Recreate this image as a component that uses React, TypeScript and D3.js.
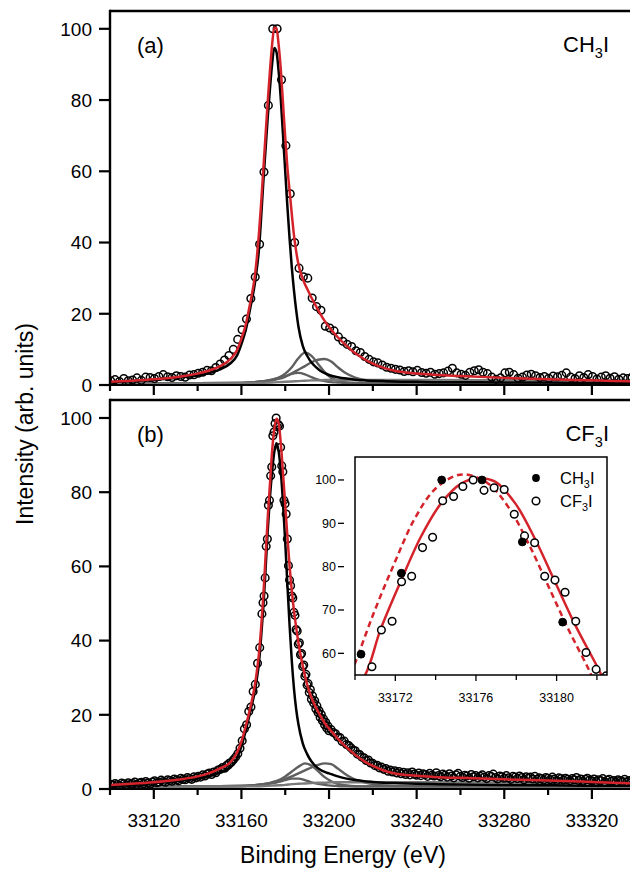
import React from "react";
import * as d3 from "d3";

// ---------------- data ----------------
// energy grid (eV) on which the fitted curves were read
const fitEnergy = [33100, 33110, 33120, 33130, 33140, 33145, 33150, 33155, 33158, 33160, 33162, 33164,
  33166, 33167, 33168, 33169, 33170, 33171, 33172, 33173, 33174, 33175, 33176, 33177, 33178, 33179, 33180,
  33181, 33182, 33183, 33184, 33185, 33186, 33188, 33190, 33192, 33194, 33196, 33198, 33200,
  33204, 33208, 33212, 33216, 33220, 33225, 33230, 33240, 33250, 33260, 33280, 33300, 33320, 33340];

// (a) CH3I: total fit (red) and main peak (black)
const totalFitCH3I = [0.9, 1.2, 1.6, 2.2, 3.2, 4.0, 5.2, 7.3, 9.8, 13.0, 17.0, 23.0,
  30.0, 35.5, 42.5, 51, 60.5, 70, 79.5, 88, 95.5, 100.3, 100.2, 95.5, 88.5, 79, 69.5,
  61, 54.5, 48, 42, 37.5, 34, 29.8, 27, 24.5, 22.2, 20, 18, 16.3,
  13.4, 11, 8.9, 7.3, 6.0, 4.8, 4.0, 3.2, 2.8, 2.5, 2.0, 1.6, 1.3, 1.0];
const mainPeakCH3I = [0.8, 1.1, 1.4, 2.0, 2.7, 3.3, 4.3, 6.1, 8.3, 11.5, 15.5, 21.5,
  28, 32.5, 38, 47, 57, 66, 75, 83, 90, 94.6, 93.5, 88, 80, 70, 60,
  50, 41, 33, 26.5, 21, 16.5, 11, 8.2, 6.3, 5.0, 4.0, 3.3, 2.8,
  2.2, 1.8, 1.5, 1.3, 1.2, 1.1, 1.0, 0.9, 0.8, 0.8, 0.7, 0.7, 0.6, 0.6];

// (b) CF3I: total fit (red) and main peak (black)
const totalFitCF3I = [1.1, 1.4, 1.8, 2.4, 3.4, 4.2, 5.5, 7.2, 9.8, 12.8, 17.0, 21.8,
  27.5, 31.5, 36.5, 43.5, 52, 62.5, 73, 82, 91, 97, 99.8, 98.6, 93, 85, 76.5,
  68, 60, 53.5, 48, 43.5, 39.5, 33.2, 28.2, 24.6, 22, 19.8, 17.8, 16.3,
  13.6, 11.2, 9.2, 7.5, 6.2, 5.0, 4.2, 3.6, 3.2, 3.0, 2.6, 2.3, 1.9, 1.5];
const mainPeakCF3I = [0.9, 1.2, 1.6, 2.1, 2.9, 3.5, 4.4, 5.8, 8.3, 11.5, 15.8, 20.8,
  26, 29.5, 34, 41, 49, 59, 69.5, 78.5, 85.5, 90.8, 93.2, 91, 85.5, 77, 66.5,
  55, 44, 34.5, 27, 21.5, 17.5, 12.3, 9.4, 7.4, 6.1, 5.2, 4.6, 4.2,
  3.4, 2.8, 2.4, 2.1, 1.9, 1.7, 1.6, 1.4, 1.3, 1.2, 1.1, 1.0, 0.9, 0.9];

// gray satellite components
const compEnergy = [33100, 33140, 33160, 33166, 33170, 33174, 33177, 33180, 33183, 33186, 33189, 33192, 33195,
  33198, 33201, 33204, 33207, 33210, 33214, 33218, 33224, 33232, 33250, 33300, 33340];
const satACH3I = [0.5, 0.5, 0.6, 0.8, 1.0, 1.5, 2.1, 3.2, 5.0, 7.5, 9.1, 8.2, 5.9,
  3.6, 2.0, 1.2, 0.8, 0.6, 0.5, 0.5, 0.5, 0.5, 0.5, 0.5, 0.5];
const satBCH3I = [0.5, 0.5, 0.6, 0.8, 1.1, 1.5, 2.0, 2.5, 3.3, 4.3, 5.3, 6.4, 7.1,
  7.3, 6.6, 5.0, 3.6, 2.6, 1.7, 1.2, 0.8, 0.6, 0.5, 0.5, 0.5];
const satCCH3I = [0.5, 0.5, 0.6, 0.8, 1.0, 1.3, 1.7, 2.3, 3.1, 3.4, 3.0, 2.2, 1.5,
  1.1, 0.8, 0.7, 0.6, 0.6, 0.5, 0.5, 0.5, 0.5, 0.5, 0.5, 0.5];
const stepCH3I = [0.4, 0.4, 0.5, 0.5, 0.6, 0.7, 0.8, 0.9, 1.0, 1.1, 1.2, 1.3, 1.3,
  1.4, 1.4, 1.4, 1.4, 1.4, 1.4, 1.4, 1.4, 1.4, 1.4, 1.3, 1.3];
const satACF3I = [0.7, 0.7, 0.8, 1.0, 1.3, 1.8, 2.4, 3.4, 4.7, 6.0, 6.9, 6.3, 4.8,
  3.2, 2.1, 1.4, 1.0, 0.8, 0.7, 0.7, 0.7, 0.7, 0.7, 0.7, 0.7];
const satBCF3I = [0.7, 0.7, 0.8, 1.0, 1.3, 1.7, 2.1, 2.7, 3.4, 4.2, 5.0, 5.8, 6.5,
  6.9, 6.7, 5.5, 4.2, 3.1, 2.1, 1.5, 1.0, 0.8, 0.7, 0.7, 0.7];
const satCCF3I = [0.7, 0.7, 0.8, 1.0, 1.2, 1.5, 1.9, 2.4, 2.8, 2.8, 2.4, 1.8, 1.4,
  1.1, 0.9, 0.8, 0.7, 0.7, 0.7, 0.7, 0.7, 0.7, 0.7, 0.7, 0.7];
const stepCF3I = [0.6, 0.6, 0.7, 0.7, 0.8, 0.9, 1.0, 1.1, 1.3, 1.4, 1.5, 1.6, 1.7,
  1.7, 1.8, 1.8, 1.8, 1.8, 1.8, 1.8, 1.8, 1.8, 1.8, 1.7, 1.6];

// measured CH3I points: 2 eV spacing starting at 33100.3 eV
const ch3iStart = 33100.3;
const ch3iStep = 2;
const ch3iPoints = [1.2, 1.5, 1.0, 1.8, 1.2, 1.4, 2.0, 1.3, 2.2, 2.1,
  1.8, 2.4, 2.9, 2.3, 2.1, 2.6, 2.4, 2.2, 2.8, 2.9,
  3.3, 3.6, 4.1, 4.0, 4.9, 5.9, 7.0, 8.3, 10.0, 12.8,
  15.5, 18.5, 24.3, 30.3, 39.5, 59.8, 78.5, 100, 100, 85.7,
  67.2, 53.7, 40.0, 32.8, 30.4, 30.0, 24.4, 22.0, 21.0, 16.5,
  16.0, 15.2, 13.5, 12.3, 11.4, 10.8, 9.6, 9.1, 8.0, 7.2,
  6.5, 6.2, 5.6, 5.0, 4.7, 4.4, 4.2, 3.8, 4.0, 3.7,
  4.1, 3.5, 3.3, 3.6, 3.0, 3.2, 3.4, 3.9, 4.7, 3.4,
  3.0, 2.7, 3.6, 4.0, 4.3, 3.6, 3.2, 2.2, 1.6, 2.0,
  3.4, 3.6, 2.9, 1.9, 2.2, 2.8, 3.0, 2.6, 2.1, 2.4,
  1.9, 2.5, 2.3, 2.7, 3.4, 2.2, 1.8, 2.6, 2.1, 2.9,
  2.4, 1.7, 2.2, 2.6, 1.9, 2.3, 1.6, 2.0, 1.8, 2.2];

// measured CF3I points, low-energy side: 1 eV spacing from 33100.35 eV
const cf3iLowStart = 33100.35;
const cf3iLow = [1.3, 1.0, 1.5, 1.2, 0.9, 1.6, 1.4, 1.1, 1.7, 1.3,
  1.5, 1.9, 1.2, 1.6, 1.8, 1.4, 2.0, 1.6, 1.3, 1.9,
  2.2, 1.7, 1.9, 2.4, 2.0, 1.8, 2.5, 2.3, 2.1, 2.7,
  2.4, 2.2, 2.9, 2.6, 2.5, 3.1, 2.8, 2.6, 3.3, 3.0,
  3.4, 3.2, 3.8, 3.5, 4.0, 4.3, 3.9, 4.6, 4.4, 5.1,
  5.3, 5.8, 5.6, 6.4, 6.9, 7.2, 7.9, 8.6, 9.5, 11.0,
  13.0, 16.2, 17.3, 20.9, 22.1, 26.3, 28.2, 33.9, 38.1, 47.2];
// CF3I peak region (0.5 eV spacing), energies and intensities
const cf3iPeakEnergy = [33169.85, 33170.34, 33170.84, 33171.31, 33171.84, 33172.31, 33172.81, 33173.35,
  33173.85, 33174.35, 33174.89, 33175.35, 33175.86, 33176.40, 33176.90, 33177.40, 33177.90, 33178.41,
  33178.91, 33179.41, 33179.92, 33180.42, 33180.95, 33181.46, 33181.96];
const cf3iPeak = [50.2, 52.0, 56.9, 65.4, 67.4, 76.5, 77.8, 84.4,
  86.8, 95.2, 96.2, 98.5, 100, 97.6, 98.2, 97.8, 92.1, 87.1,
  85.5, 77.8, 76.9, 74.1, 67.4, 60.2, 56.3];
// CF3I high-energy flank: 0.5 eV spacing from 33182.46 eV
const cf3iFlankStart = 33182.46;
const cf3iFlank = [54.8, 52.0, 51.5, 47.6, 46.8, 43.0, 42.6, 39.0, 39.4, 36.2,
  36.5, 33.0, 33.4, 30.4, 30.9, 28.0, 28.4, 26.0, 26.8, 24.2,
  25.1, 23.2, 23.8, 21.6, 22.4, 20.6, 21.1, 19.3, 20.1, 18.4,
  18.9, 17.3, 18.0, 16.4, 17.0, 15.7];
// CF3I tail: 1 eV spacing from 33200.96 eV
const cf3iTailStart = 33200.96;
const cf3iTail = [16.0, 15.2, 14.9, 14.0, 13.9, 12.8, 12.9, 12.0, 11.7, 11.1,
  10.5, 10.3, 9.4, 9.3, 8.6, 8.4, 7.7, 7.8, 7.0, 6.9,
  6.3, 6.4, 5.7, 5.9, 5.3, 5.5, 4.8, 5.1, 4.6, 4.9,
  4.3, 4.7, 4.1, 4.5, 3.9, 4.4, 3.8, 4.6, 4.0, 3.7,
  4.3, 3.6, 4.1, 3.9, 3.4, 4.2, 3.7, 3.5, 4.4, 3.6,
  3.3, 4.0, 3.7, 3.2, 4.1, 3.5, 3.0, 3.8, 4.2, 3.4,
  3.1, 3.7, 3.5, 2.9, 3.9, 3.3, 3.6, 3.0, 3.4, 3.8,
  3.2, 2.8, 3.6, 3.4, 4.0, 3.1, 2.7, 3.5, 3.3, 2.9,
  3.6, 3.0, 2.6, 3.4, 3.2, 2.8, 3.5, 3.1, 2.5, 3.3,
  2.9, 3.2, 2.7, 3.4, 2.6, 3.0, 2.8, 2.4, 3.1, 2.9,
  2.5, 3.2, 2.7, 2.3, 3.0, 2.8, 2.4, 2.9, 2.6, 2.2,
  2.8, 2.5, 3.1, 2.3, 2.7, 2.1, 2.6, 2.9, 2.4, 2.2,
  2.7, 2.0, 2.5, 2.3, 2.8, 1.9, 2.4, 2.6, 2.1, 2.3,
  1.8, 2.5, 2.2, 2.0, 2.6, 1.9, 2.3, 2.1, 1.7, 2.4];

// inset peak-top fits
const insetFitCF3IEnergy = [33169.6, 33170.5, 33171.26, 33172.26, 33173.27, 33174.27, 33175.28, 33176.1,
  33176.95, 33177.95, 33178.96, 33179.96, 33180.97, 33182.15, 33182.8];
const insetFitCF3I = [50, 55, 65.4, 76.5, 86.9, 94.6, 99.2, 100.4, 99.6, 94.6, 86.1, 76.1, 66.1, 55.7, 49];
const insetFitCH3IEnergy = [33169.4, 33170.0, 33170.92, 33171.92, 33172.93, 33173.93, 33174.94, 33175.6,
  33176.6, 33177.6, 33178.6, 33179.6, 33180.6, 33181.65, 33182.3];
const insetFitCH3I = [51, 57.7, 69.2, 80.4, 90.8, 97.7, 100.9, 101.2, 99.2, 93.8, 85.4, 75.4, 65.4, 55.7, 48.5];

// ticks
const xMajorTicks = [33120, 33160, 33200, 33240, 33280, 33320];
const xMinorTicks = [33100, 33140, 33180, 33220, 33260, 33300];
const yTicks = [0, 20, 40, 60, 80, 100];
const insetXMajor = [33172, 33176, 33180];
const insetXMinor = [33170, 33174, 33178, 33182];
const insetYTicks = [60, 70, 80, 90, 100];

// ---------------- styling / layout ----------------
const FONT = "'Liberation Sans', Arial, Helvetica, sans-serif";
const RED = "#d4232b";
const GRAY = "#5f5f5f";
const GRAY2 = "#7a7a7a";
const PLOT_L = 110;
const PLOT_R = 630;

type Pt = [number, number];
const zip = (xs: number[], ys: number[]): Pt[] => xs.map((x, i) => [x, ys[i]] as Pt);
const seq = (start: number, step: number, ys: number[]): Pt[] => ys.map((y, i) => [start + i * step, y] as Pt);

const ch3iData: Pt[] = seq(ch3iStart, ch3iStep, ch3iPoints);
const cf3iData: Pt[] = [
  ...seq(cf3iLowStart, 1, cf3iLow),
  ...zip(cf3iPeakEnergy, cf3iPeak),
  ...seq(cf3iFlankStart, 0.5, cf3iFlank),
  ...seq(cf3iTailStart, 1, cf3iTail),
];

const xMain = d3.scaleLinear().domain([33100, 33337.4]).range([PLOT_L, PLOT_R]);

function Formula({ x, y, base, sub, end, size, anchor }: { x: number; y: number; base: string; sub: string; end: string; size: number; anchor?: string }) {
  const d = size * 0.26;
  return (
    <text x={x} y={y} fontSize={size} fontFamily={FONT} textAnchor={anchor || "start"} fill="#000">
      {base}
      <tspan dy={d} fontSize={size * 0.66}>{sub}</tspan>
      <tspan dy={-d}>{end}</tspan>
    </text>
  );
}

function Panel({ id, top, bottom, yMax, total, main, sats, data, label, species, showXLabels }: any) {
  const y = d3.scaleLinear().domain([0, yMax]).range([bottom, top]);
  const line = d3.line<Pt>().x((d) => xMain(d[0])).y((d) => y(d[1])).curve(d3.curveMonotoneX);
  return (
    <g>
      <defs>
        <clipPath id={id}>
          <rect x={PLOT_L} y={top} width={PLOT_R - PLOT_L} height={bottom - top} />
        </clipPath>
      </defs>
      <g clipPath={`url(#${id})`}>
        {sats.map((s: number[], i: number) => (
          <path key={i} d={line(zip(compEnergy, s)) || ""} fill="none" stroke={i === 3 ? GRAY2 : GRAY} strokeWidth={2.4} />
        ))}
        <path d={line(zip(fitEnergy, main)) || ""} fill="none" stroke="#000" strokeWidth={2.5} />
        {data.map((d: Pt, i: number) => (
          <circle key={i} cx={xMain(d[0])} cy={y(d[1])} r={3.8} fill="none" stroke="#000" strokeWidth={1.5} />
        ))}
        <path d={line(zip(fitEnergy, total)) || ""} fill="none" stroke={RED} strokeWidth={2.5} />
      </g>
      {/* frame */}
      <line x1={PLOT_L} x2={PLOT_R} y1={top} y2={top} stroke="#000" strokeWidth={2.4} />
      <line x1={PLOT_L} x2={PLOT_L} y1={top - 1.2} y2={bottom + 1} stroke="#000" strokeWidth={2.4} />
      <line x1={PLOT_L} x2={PLOT_R} y1={bottom} y2={bottom} stroke="#000" strokeWidth={2.2} />
      {yTicks.map((t) => (
        <g key={t}>
          <line x1={PLOT_L - 11} x2={PLOT_L} y1={y(t)} y2={y(t)} stroke="#000" strokeWidth={2.2} />
          <text x={PLOT_L - 18} y={y(t)} dy="0.36em" textAnchor="end" fontSize={19} fontFamily={FONT}>{t}</text>
        </g>
      ))}
      {xMajorTicks.map((t) => (
        <g key={t}>
          <line x1={xMain(t)} x2={xMain(t)} y1={bottom} y2={bottom + 10} stroke="#000" strokeWidth={2.2} />
          {showXLabels && (
            <text x={xMain(t)} y={bottom + 38} textAnchor="middle" fontSize={19} fontFamily={FONT}>{t}</text>
          )}
        </g>
      ))}
      {xMinorTicks.map((t) => (
        <line key={t} x1={xMain(t)} x2={xMain(t)} y1={bottom} y2={bottom + 6} stroke="#000" strokeWidth={2.2} />
      ))}
      <text x={137} y={top + 42} fontSize={22} fontFamily={FONT}>{label}</text>
      <Formula x={609} y={top + 41} base={species[0]} sub="3" end="I" size={22} anchor="end" />
    </g>
  );
}

function Inset() {
  const L = 355, R = 607, T = 457, B = 675;
  const x = d3.scaleLinear().domain([33170, 33182.5]).range([L, R]);
  const y = d3.scaleLinear().domain([55, 105.3]).range([B, T]);
  const line = d3.line<Pt>().x((d) => x(d[0])).y((d) => y(d[1])).curve(d3.curveCatmullRom);
  const inRange = (d: Pt) => d[0] >= 33169.5 && d[0] <= 33183;
  return (
    <g>
      <defs>
        <clipPath id="insetClip">
          <rect x={L} y={T} width={R - L} height={B - T} />
        </clipPath>
      </defs>
      <rect x={L} y={T} width={R - L} height={B - T} fill="#fff" stroke="none" />
      <g clipPath="url(#insetClip)">
        <path d={line(zip(insetFitCH3IEnergy, insetFitCH3I)) || ""} fill="none" stroke={RED} strokeWidth={2.5} strokeDasharray="6,4" />
        <path d={line(zip(insetFitCF3IEnergy, insetFitCF3I)) || ""} fill="none" stroke={RED} strokeWidth={2.5} />
        {cf3iData.filter(inRange).map((d, i) => (
          <circle key={"o" + i} cx={x(d[0])} cy={y(d[1])} r={3.8} fill="#fff" stroke="#000" strokeWidth={1.5} />
        ))}
        {ch3iData.filter(inRange).map((d, i) => (
          <circle key={"f" + i} cx={x(d[0])} cy={y(d[1])} r={3.9} fill="#000" stroke="#000" strokeWidth={1} />
        ))}
      </g>
      <rect x={L} y={T} width={R - L} height={B - T} fill="none" stroke="#000" strokeWidth={1.5} />
      {insetYTicks.map((t) => (
        <g key={t}>
          <line x1={338} x2={344} y1={y(t)} y2={y(t)} stroke="#000" strokeWidth={1.3} />
          <text x={336} y={y(t)} dy="0.36em" textAnchor="end" fontSize={12.5} fontFamily={FONT}>{t}</text>
        </g>
      ))}
      {insetXMajor.map((t) => (
        <g key={t}>
          <line x1={x(t)} x2={x(t)} y1={B} y2={B + 6} stroke="#000" strokeWidth={1.3} />
          <text x={x(t)} y={B + 27} textAnchor="middle" fontSize={12.5} fontFamily={FONT}>{t}</text>
        </g>
      ))}
      {insetXMinor.map((t) => (
        <line key={t} x1={x(t)} x2={x(t)} y1={B} y2={B + 5} stroke="#000" strokeWidth={1.3} />
      ))}
      <circle cx={536} cy={478} r={3.9} fill="#000" />
      <Formula x={560} y={484} base="CH" sub="3" end="I" size={16.5} />
      <circle cx={536} cy={501} r={3.8} fill="#fff" stroke="#000" strokeWidth={1.5} />
      <Formula x={560} y={507} base="CF" sub="3" end="I" size={16.5} />
    </g>
  );
}

export default function App() {
  return (
    <svg width={630} height={870} viewBox="0 0 630 870" style={{ position: "absolute", left: 0, top: 0, background: "#fff" }}>
      <rect x={0} y={0} width={630} height={870} fill="#fff" />
      <Panel id="clipA" top={11} bottom={385} yMax={105} total={totalFitCH3I} main={mainPeakCH3I}
        sats={[satACH3I, satBCH3I, satCCH3I, stepCH3I]} data={ch3iData} label="(a)" species={["CH"]} showXLabels={false} />
      <Panel id="clipB" top={400} bottom={789} yMax={104.85} total={totalFitCF3I} main={mainPeakCF3I}
        sats={[satACF3I, satBCF3I, satCCF3I, stepCF3I]} data={cf3iData} label="(b)" species={["CF"]} showXLabels={true} />
      <Inset />
      <text x={343} y={863} textAnchor="middle" fontSize={23} fontFamily={FONT}>Binding Energy (eV)</text>
      <text transform="translate(33,424) rotate(-90)" textAnchor="middle" fontSize={23} fontFamily={FONT}>Intensity (arb. units)</text>
    </svg>
  );
}
